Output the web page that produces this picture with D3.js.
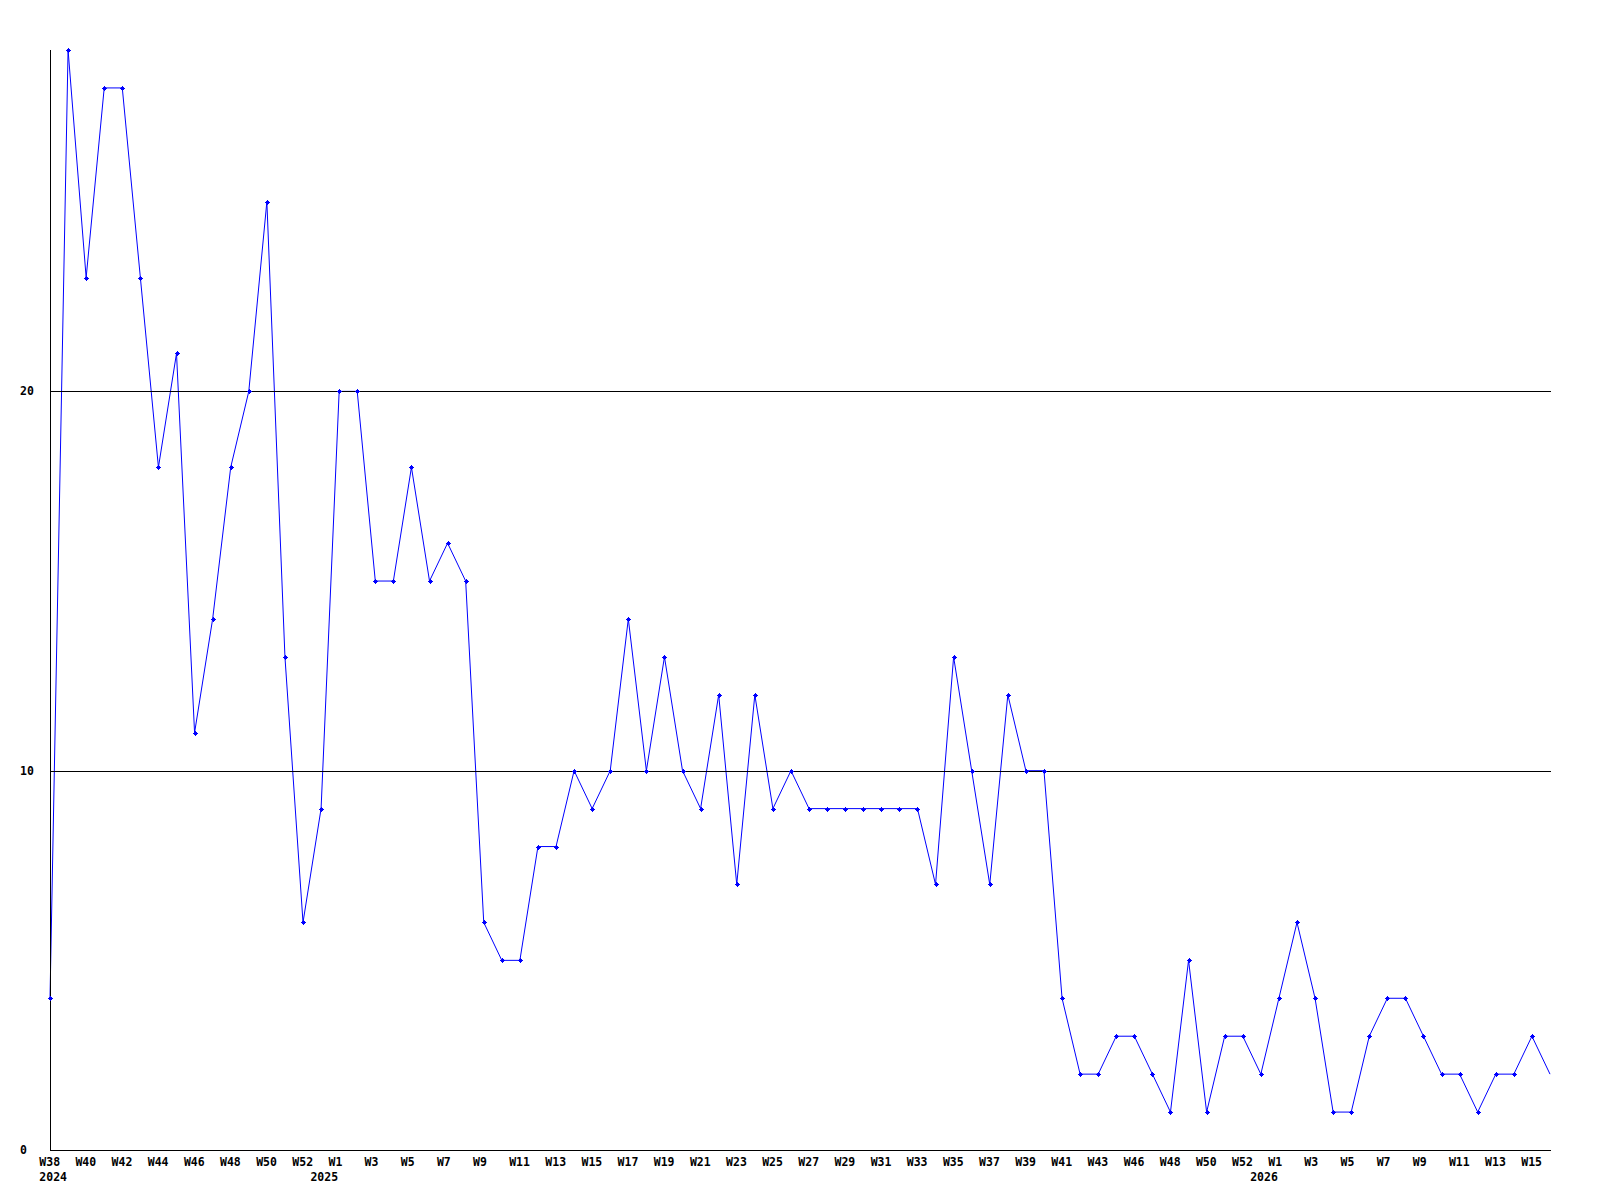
<!DOCTYPE html>
<html>
<head>
<meta charset="utf-8">
<script src="https://cdn.jsdelivr.net/npm/d3@7"></script>
<style>
  html, body { margin: 0; padding: 0; background: #fff; }
  svg { display: block; }
  text { font-family: "DejaVu Sans Mono", "Liberation Mono", monospace; font-weight: bold; font-size: 11.5px; fill: #000; }
</style>
</head>
<body>
<script>
// Weekly values, 2024 W38 .. 2026 W16 (84 points)
const values = [
  4, 29, 23, 28, 28, 23, 18, 21, 11, 14, 18, 20, 25, 13, 6, 9,
  20, 20, 15, 15, 18, 15, 16, 15, 6, 5, 5, 8, 8, 10, 9, 10, 14, 10, 13, 10, 9, 12, 7, 12, 9, 10,
  9, 9, 9, 9, 9, 9, 9, 7, 13, 10, 7, 12, 10, 10, 4, 2, 2, 3, 3, 2, 1, 5, 1, 3, 3, 2,
  4, 6, 4, 1, 1, 3, 4, 4, 3, 2, 2, 1, 2, 2, 3, 2
];
// Tick labels at every other point (index -> label)
const weekTickIndex = [0,2,4,6,8,10,12,14,16,18,20,22,24,26,28,30,32,34,36,38,40,42,44,46,48,50,52,54,56,58,60,62,64,66,68,70,72,74,76,78,80,82];
const weekTickLabels = ["W38","W40","W42","W44","W46","W48","W50","W52","W1","W3","W5","W7","W9","W11","W13","W15","W17","W19","W21","W23","W25","W27","W29","W31","W33","W35","W37","W39","W41","W43","W46","W48","W50","W52","W1","W3","W5","W7","W9","W11","W13","W15"];
const yearTickIndex = [0, 15, 67];
const yearTickLabels = ["2024", "2025", "2026"];
const yTicks = [0, 10, 20];

const W = 1600, H = 1200;
const mLeft = 50, mRight = 1550, mTop = 50, mBottom = 1150;

const svg = d3.select("body").append("svg").attr("width", W).attr("height", H);

const x = d3.scaleLinear().domain([0, values.length - 1]).range([mLeft, mRight]);
const y = d3.scaleLinear().domain([0, d3.max(values)]).range([mBottom, mTop]);

// data line
const line = d3.line().x((d, i) => x(i)).y(d => y(d));
svg.append("path").datum(values)
  .attr("d", line)
  .attr("fill", "none")
  .attr("stroke", "#0000ff")
  .attr("stroke-width", 1);

// gridlines (drawn over line)
svg.append("g").selectAll("line").data(yTicks.filter(t => t > 0)).join("line")
  .attr("x1", mLeft).attr("x2", mRight + 1)
  .attr("y1", d => Math.round(y(d)) + 0.5).attr("y2", d => Math.round(y(d)) + 0.5)
  .attr("stroke", "#000").attr("stroke-width", 1)
  .attr("shape-rendering", "crispEdges");

// axes
svg.append("line").attr("x1", mLeft + 0.5).attr("x2", mLeft + 0.5).attr("y1", mTop).attr("y2", mBottom + 1)
  .attr("stroke", "#000").attr("shape-rendering", "crispEdges");
svg.append("line").attr("x1", mLeft).attr("x2", mRight + 1).attr("y1", mBottom + 0.5).attr("y2", mBottom + 0.5)
  .attr("stroke", "#000").attr("shape-rendering", "crispEdges");

// markers
const marker = "M-2.5,-0.5h5v1h-5z M-0.5,-2.5h1v5h-1z M-1.5,-1.5h3v3h-3z";
svg.append("g").selectAll("path").data(values.slice(0, values.length - 1)).join("path")
  .attr("d", marker)
  .attr("transform", (d, i) => `translate(${Math.round(x(i)) + 0.5},${Math.round(y(d)) + 0.5})`)
  .attr("fill", "#0000ff");

// y labels
svg.append("g").selectAll("text").data(yTicks).join("text")
  .attr("x", 20)
  .attr("y", d => y(d))
  .attr("dy", "0.35em")
  .text(d => d);

// week labels
svg.append("g").selectAll("text").data(weekTickIndex).join("text")
  .attr("x", d => x(d) - 10.7)
  .attr("y", 1166)
  .text((d, i) => weekTickLabels[i]);

// year labels
svg.append("g").selectAll("text").data(yearTickIndex).join("text")
  .attr("x", d => x(d) - 10.7)
  .attr("y", 1181)
  .text((d, i) => yearTickLabels[i]);
</script>
</body>
</html>
